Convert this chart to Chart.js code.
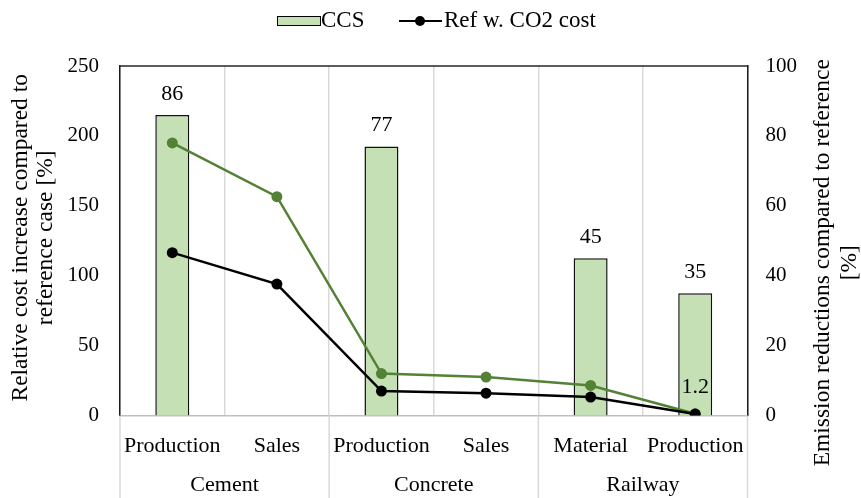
<!DOCTYPE html>
<html>
<head>
<meta charset="utf-8">
<script src="https://cdn.jsdelivr.net/npm/chart.js@4.4.1/dist/chart.umd.min.js"></script>
<style>
  html, body { margin: 0; padding: 0; background: #fff; }
  #wrap { width: 861px; height: 498px; position: relative; }
</style>
</head>
<body>
<div id="wrap"><canvas id="chart"></canvas></div>
<script>
// categories (two-level axis: item under its sector)
const items = ['Production', 'Sales', 'Production', 'Sales', 'Material', 'Production'];
const groups = ['Cement', 'Concrete', 'Railway'];
const groupSizes = [2, 2, 2];

// emission reductions, right axis [%]
const ccsReduction = [86, null, 77, null, 45, 35];
// relative cost increase, left axis [%]
const ccsCost = [195, 156.5, 30, 27.5, 21.5, 1.2];
const refCo2Cost = [116.5, 94, 17.5, 16, 13.2, 1.0];

const leftTicks = [0, 50, 100, 150, 200, 250];
const rightTicks = [0, 20, 40, 60, 80, 100];

const FONT = '"Liberation Serif", "Times New Roman", serif';
const GREEN_FILL = '#c5e0b4';
const GREEN_LINE = '#548235';

const extras = {
  id: 'extras',
  afterDatasetsDraw(chart) {
    const ctx = chart.ctx;
    ctx.save();
    ctx.font = '22px ' + FONT;
    ctx.fillStyle = '#000';
    ctx.textAlign = 'center';
    ctx.textBaseline = 'middle';
    // value labels over the bars
    chart.getDatasetMeta(0).data.forEach((el, i) => {
      if (ccsReduction[i] == null) return;
      ctx.fillText(String(ccsReduction[i]), el.x, el.y - 21);
    });
    // last point of the CCS cost line
    const last = chart.getDatasetMeta(1).data[ccsCost.length - 1];
    ctx.fillText(String(ccsCost[ccsCost.length - 1]), last.x, last.y - 27);
    ctx.restore();
  },
  afterDraw(chart) {
    const ctx = chart.ctx;
    const a = chart.chartArea;
    ctx.save();

    // top frame line
    ctx.strokeStyle = '#262626';
    ctx.lineWidth = 1.5;
    ctx.beginPath();
    ctx.moveTo(a.left - 0.75, a.top);
    ctx.lineTo(a.right + 0.75, a.top);
    ctx.stroke();

    // group separators and group names under the axis
    const step = (a.right - a.left) / items.length;
    ctx.strokeStyle = '#d9d9d9';
    ctx.lineWidth = 1.5;
    let idx = 0;
    const bounds = [a.left];
    groupSizes.forEach(n => { idx += n; bounds.push(a.left + idx * step); });
    bounds.forEach(bx => {
      ctx.beginPath();
      ctx.moveTo(bx, a.bottom);
      ctx.lineTo(bx, chart.height);
      ctx.stroke();
    });
    ctx.font = '22px ' + FONT;
    ctx.fillStyle = '#000';
    ctx.textAlign = 'center';
    ctx.textBaseline = 'middle';
    groups.forEach((g, i) => {
      ctx.fillText(g, (bounds[i] + bounds[i + 1]) / 2, 485);
    });

    // axis titles, both reading bottom to top
    const midY = (a.top + a.bottom) / 2;
    ctx.font = '23.5px ' + FONT;
    ctx.save();
    ctx.translate(21, midY - 3);
    ctx.rotate(-Math.PI / 2);
    ctx.fillText('Relative cost increase compared to', 0, 0);
    ctx.fillText('reference case [%]', 0, 25);
    ctx.restore();
    ctx.save();
    ctx.translate(823, midY + 22);
    ctx.rotate(-Math.PI / 2);
    ctx.fillText('Emission reductions compared to reference', 0, 0);
    ctx.fillText('[%]', 0, 27);
    ctx.restore();

    // legend
    ctx.font = '23px ' + FONT;
    ctx.textAlign = 'left';
    ctx.fillStyle = GREEN_FILL;
    ctx.fillRect(277, 16, 44, 10);
    ctx.strokeStyle = '#000';
    ctx.lineWidth = 1;
    ctx.strokeRect(277.5, 16.5, 43, 9);
    ctx.fillStyle = '#000';
    ctx.fillText('CCS', 321, 21);
    ctx.lineWidth = 2;
    ctx.beginPath();
    ctx.moveTo(399, 21);
    ctx.lineTo(442, 21);
    ctx.stroke();
    ctx.beginPath();
    ctx.arc(420, 21, 5, 0, Math.PI * 2);
    ctx.fill();
    ctx.fillText('Ref w. CO2 cost', 444, 21);

    ctx.restore();
  }
};

const ctx = document.getElementById('chart').getContext('2d');
const chart = new Chart(ctx, {
  type: 'bar',
  data: {
    labels: items,
    datasets: [
      {
        type: 'bar',
        label: 'CCS',
        data: ccsReduction,
        yAxisID: 'y1',
        backgroundColor: GREEN_FILL,
        borderColor: '#111',
        borderWidth: 1.5,
        barPercentage: 0.325,
        categoryPercentage: 1,
        order: 3
      },
      {
        type: 'line',
        label: 'CCS cost',
        data: ccsCost,
        yAxisID: 'y',
        borderColor: GREEN_LINE,
        backgroundColor: GREEN_LINE,
        borderWidth: 2.5,
        pointRadius: 5.5,
        pointBorderWidth: 0,
        tension: 0,
        order: 2
      },
      {
        type: 'line',
        label: 'Ref w. CO2 cost',
        data: refCo2Cost,
        yAxisID: 'y',
        borderColor: '#000',
        backgroundColor: '#000',
        borderWidth: 2.5,
        pointRadius: 5.5,
        pointBorderWidth: 0,
        tension: 0,
        order: 1
      }
    ]
  },
  options: {
    responsive: true,
    maintainAspectRatio: false,
    animation: false,
    layout: { padding: { top: 66, left: 0, right: 0, bottom: 0 } },
    plugins: {
      legend: { display: false },
      tooltip: { enabled: false }
    },
    scales: {
      x: {
        offset: true,
        grid: { color: '#d9d9d9', lineWidth: 1.5, drawTicks: false, offset: true },
        border: { color: '#bfbfbf', width: 1.5 },
        ticks: {
          font: { family: FONT, size: 22 },
          color: '#000',
          padding: 18,
          maxRotation: 0,
          autoSkip: false
        },
        afterFit: s => { s.height = 82.5; }
      },
      y: {
        position: 'left',
        min: 0,
        max: 250,
        afterBuildTicks: s => { s.ticks = leftTicks.map(v => ({ value: v })); },
        grid: { display: false, drawTicks: false },
        border: { color: '#1a1a1a', width: 1.5 },
        ticks: { font: { family: FONT, size: 21 }, color: '#000', padding: 21 },
        afterFit: s => { s.width = 120; }
      },
      y1: {
        position: 'right',
        min: 0,
        max: 100,
        afterBuildTicks: s => { s.ticks = rightTicks.map(v => ({ value: v })); },
        grid: { display: false, drawTicks: false },
        border: { color: '#1a1a1a', width: 1.5 },
        ticks: { font: { family: FONT, size: 21 }, color: '#000', padding: 18 },
        afterFit: s => { s.width = 113.5; }
      }
    }
  },
  plugins: [extras]
});
</script>
</body>
</html>
